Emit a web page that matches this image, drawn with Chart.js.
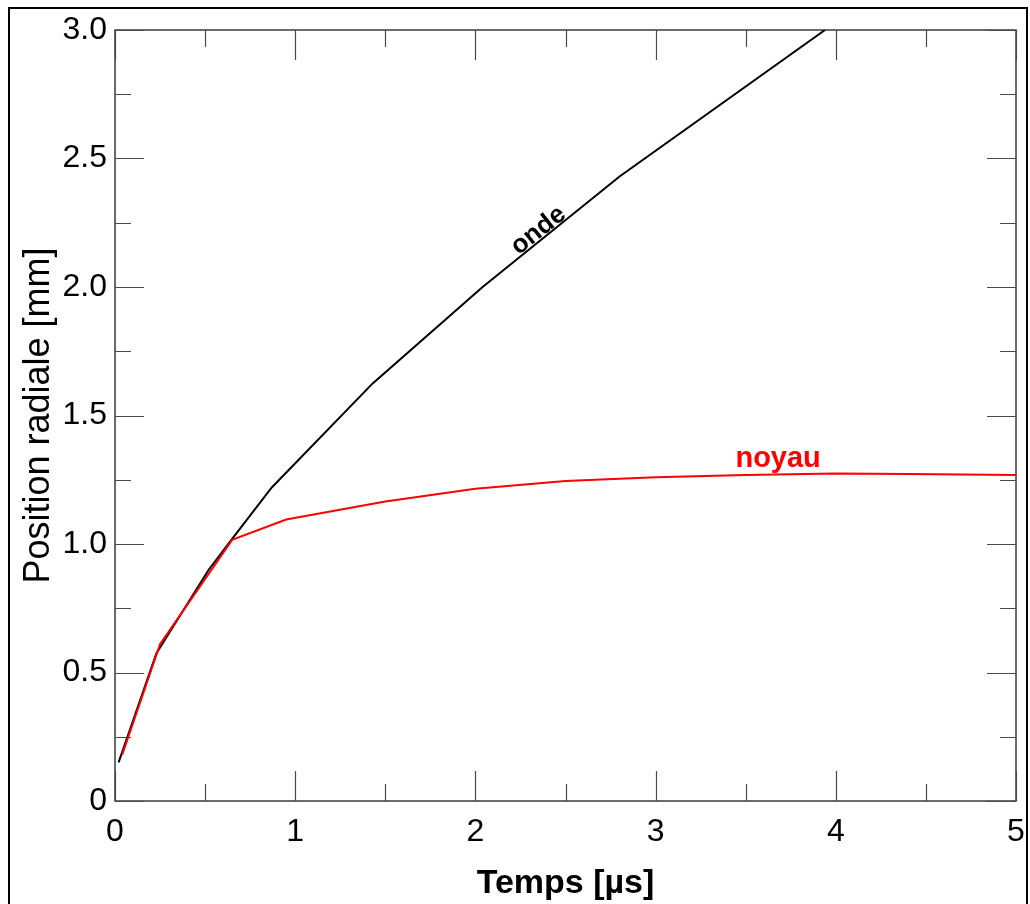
<!DOCTYPE html>
<html>
<head>
<meta charset="utf-8">
<script src="https://cdn.jsdelivr.net/npm/chart.js@4/dist/chart.umd.min.js"></script>
<style>
	body { margin: 0; background: #fff; }
	#wrap { width: 1030px; height: 904px; position: relative; }
</style>
</head>
<body>
<div id="wrap"><canvas id="c" width="1030" height="904"></canvas></div>
<script>
// courbe "onde" (front d'onde)
var ondeX = [0.02, 0.23, 0.52, 0.65, 0.87, 1.43, 2.04, 2.8, 3.94];
var ondeY = [0.15, 0.575, 0.90, 1.02, 1.22, 1.625, 2.0, 2.43, 3.0];

// courbe "noyau"
var noyauX = [0.04, 0.25, 0.65, 0.95, 1.5, 2.0, 2.5, 3.0, 3.5, 4.0, 4.4, 5.0];
var noyauY = [0.18, 0.61, 1.016, 1.095, 1.165, 1.215, 1.245, 1.26, 1.268, 1.274, 1.272, 1.268];

// graduations
var xMajor = [0, 1, 2, 3, 4, 5];
var xMinor = [0.5, 1.5, 2.5, 3.5, 4.5];
var yMajor = [0, 0.5, 1.0, 1.5, 2.0, 2.5, 3.0];
var yMinor = [0.25, 0.75, 1.25, 1.75, 2.25, 2.75];

// étiquettes sur les courbes
var ondeLabel = { text: "onde", x: 2.35, y: 2.22, angle: -38.5 };
var noyauLabel = { text: "noyau", x: 3.68, y: 1.30 };

function points(xs, ys) {
	var out = [];
	for (var i = 0; i < xs.length; i++) out.push({ x: xs[i], y: ys[i] });
	return out;
}

var frame = {
	id: "frame",
	beforeDatasetsDraw: function(chart) {
		var ctx = chart.ctx;
		var a = chart.chartArea;
		var sx = chart.scales.x, sy = chart.scales.y;
		ctx.save();
		// cadre extérieur
		ctx.strokeStyle = "#000";
		ctx.lineWidth = 2;
		ctx.strokeRect(9, 8, 1018, 920);
		// cadre du graphe
		ctx.strokeStyle = "#3a3a3a";
		ctx.lineWidth = 1.5;
		ctx.strokeRect(a.left, a.top, a.right - a.left, a.bottom - a.top);
		ctx.lineWidth = 1.2;
		ctx.strokeStyle = "#4a4a4a";
		function tx(list, len) {
			list.forEach(function(v) {
				var p = Math.round(sx.getPixelForValue(v)) + 0.5;
				ctx.beginPath();
				ctx.moveTo(p, a.bottom); ctx.lineTo(p, a.bottom - len);
				ctx.moveTo(p, a.top); ctx.lineTo(p, a.top + len);
				ctx.stroke();
			});
		}
		function ty(list, len) {
			list.forEach(function(v) {
				var p = Math.round(sy.getPixelForValue(v)) + 0.5;
				ctx.beginPath();
				ctx.moveTo(a.left, p); ctx.lineTo(a.left + len, p);
				ctx.moveTo(a.right, p); ctx.lineTo(a.right - len, p);
				ctx.stroke();
			});
		}
		tx(xMajor, 30); tx(xMinor, 17);
		ty(yMajor, 29); ty(yMinor, 16);
		ctx.restore();
	},
	afterDatasetsDraw: function(chart) {
		var ctx = chart.ctx;
		var sx = chart.scales.x, sy = chart.scales.y;
		ctx.save();
		ctx.font = "bold 26px 'Liberation Sans', Arial, sans-serif";
		ctx.fillStyle = "#000";
		ctx.textAlign = "center";
		ctx.textBaseline = "middle";
		ctx.translate(sx.getPixelForValue(ondeLabel.x), sy.getPixelForValue(ondeLabel.y));
		ctx.rotate(ondeLabel.angle * Math.PI / 180);
		ctx.fillText(ondeLabel.text, 0, 0);
		ctx.restore();

		ctx.save();
		ctx.font = "bold 29px 'Liberation Sans', Arial, sans-serif";
		ctx.fillStyle = "#ff0000";
		ctx.textAlign = "center";
		ctx.textBaseline = "alphabetic";
		ctx.fillText(noyauLabel.text, sx.getPixelForValue(noyauLabel.x), sy.getPixelForValue(noyauLabel.y));
		ctx.restore();
	}
};

var tickFont = { family: "'Liberation Sans', Arial, sans-serif", size: 32 };

new Chart(document.getElementById("c").getContext("2d"), {
	type: "line",
	data: {
		datasets: [{
			label: "noyau",
			data: points(noyauX, noyauY),
			borderColor: "#ff0000",
			borderWidth: 2,
			pointRadius: 0,
			order: 0
		}, {
			label: "onde",
			data: points(ondeX, ondeY),
			borderColor: "#000000",
			borderWidth: 2,
			pointRadius: 0,
			order: 1
		}]
	},
	options: {
		responsive: false,
		animation: false,
		layout: { padding: { top: 30, right: 14, left: 0, bottom: 0 } },
		plugins: { legend: { display: false }, tooltip: { enabled: false } },
		scales: {
			x: {
				type: "linear",
				min: 0, max: 5,
				grid: { display: false, drawTicks: false },
				border: { display: false },
				ticks: { stepSize: 1, color: "#000", font: tickFont, padding: 12, maxRotation: 0 },
				title: {
					display: true, text: "Temps [µs]", color: "#000",
					font: { family: "'Liberation Sans', Arial, sans-serif", size: 34, weight: "bold" },
					padding: { top: 8, bottom: 0 }
				},
				afterFit: function(s) {
					s.height = 103;
					s.paddingLeft = 0;
					s.paddingRight = 0;
				}
			},
			y: {
				min: 0, max: 3,
				grid: { display: false, drawTicks: false },
				border: { display: false },
				ticks: {
					stepSize: 0.5, color: "#000", font: tickFont, padding: 8,
					callback: function(v) { return v === 0 ? "0" : v.toFixed(1); }
				},
				title: {
					display: true, text: "Position radiale [mm]", color: "#000",
					font: { family: "'Liberation Sans', Arial, sans-serif", size: 36 },
					padding: { top: 17, bottom: 0 }
				},
				afterFit: function(s) {
					s.width = 115;
					s.paddingTop = 0;
					s.paddingBottom = 0;
				}
			}
		}
	},
	plugins: [frame]
});
</script>
</body>
</html>
